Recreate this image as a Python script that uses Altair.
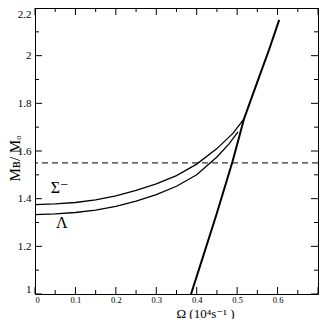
import altair as alt
import pandas as pd

# ---- data ----
sigma_x = [0, 0.05, 0.1, 0.15, 0.2, 0.25, 0.3, 0.35, 0.4, 0.45, 0.49, 0.517]
sigma_y = [1.375, 1.378, 1.384, 1.395, 1.412, 1.435, 1.462, 1.497, 1.545, 1.61, 1.675, 1.735]

lambda_x = [0, 0.05, 0.1, 0.15, 0.2, 0.25, 0.3, 0.35, 0.4, 0.45, 0.48, 0.502]
lambda_y = [1.333, 1.336, 1.342, 1.352, 1.368, 1.39, 1.417, 1.452, 1.5, 1.575, 1.63, 1.68]

kepler_x = [0.386, 0.42, 0.45, 0.4886, 0.502, 0.517, 0.55, 0.58, 0.604]
kepler_y = [1.0, 1.18, 1.34, 1.556, 1.64, 1.735, 1.89, 2.03, 2.15]

dashed_level = 1.55

label_text = ["Σ⁻", "Λ"]
label_x = [0.061, 0.066]
label_y = [1.444, 1.299]

x_major = [0, 0.1, 0.2, 0.3, 0.4, 0.5, 0.6, 0.7]
x_labels = [0, 0.1, 0.2, 0.3, 0.4, 0.5, 0.6]
x_minor = [0.05, 0.15, 0.25, 0.35, 0.45, 0.55, 0.65]
y_major = [1.0, 1.2, 1.4, 1.6, 1.8, 2.0, 2.2]
y_minor = [1.1, 1.3, 1.5, 1.7, 1.9, 2.1]

W, H = 283, 286
MAJ, MIN = 7, 4
FONT = "Liberation Serif, DejaVu Serif, Times New Roman, serif"

curves = pd.DataFrame(
    [{"x": a, "y": b, "s": "Sigma"} for a, b in zip(sigma_x, sigma_y)]
    + [{"x": a, "y": b, "s": "Lambda"} for a, b in zip(lambda_x, lambda_y)]
)
kepler = pd.DataFrame({"x": kepler_x, "y": kepler_y})
labels = pd.DataFrame({"t": label_text, "x": label_x, "y": label_y})

xs = alt.Scale(domain=[0, 0.7], nice=False, zero=False)
ys = alt.Scale(domain=[1.0, 2.2], nice=False, zero=False)

x_axis = alt.Axis(
    values=x_labels, format="~g", ticks=False, domain=False, grid=False,
    labelFont=FONT, labelFontSize=8.5, labelPadding=1, labelColor="black",
    title="Ω (10⁴s⁻¹ )", titleFont=FONT, titleFontSize=13, titleFontWeight="normal",
    titleColor="black", titleX=170, titleY=23, titleBaseline="alphabetic",
)
y_axis = alt.Axis(
    values=y_major, format="~g", ticks=False, domain=False, grid=False,
    labelFont=FONT, labelFontSize=11, labelPadding=4, labelColor="black", labelFlush=1,
    title="Mʙ/ Mₒ", titleFont=FONT, titleFontSize=15, titleFontWeight="normal",
    titleColor="black", titleX=-16, titleY=150, titleAngle=-90, titleBaseline="alphabetic",
)

def X(field):
    return alt.X(field, scale=xs, axis=x_axis)

def Y(field):
    return alt.Y(field, scale=ys, axis=y_axis)

lines = alt.Chart(curves).mark_line(color="black", strokeWidth=1.3).encode(
    x=X("x:Q"), y=Y("y:Q"), detail="s:N", order="x:Q",
)
kep = alt.Chart(kepler).mark_line(color="black", strokeWidth=2).encode(
    x=X("x:Q"), y=Y("y:Q"),
)
dash = alt.Chart().mark_rule(color="black", strokeWidth=1, strokeDash=[6, 4]).encode(
    y=alt.datum(dashed_level, scale=ys, axis=y_axis),
)
txt = alt.Chart(labels).mark_text(font=FONT, fontSize=16, color="black", baseline="middle", align="center").encode(
    x=X("x:Q"), y=Y("y:Q"), text="t:N",
)

def xticks(vals, length, bottom):
    d = pd.DataFrame({"x": vals})
    if bottom:
        y0, y1 = H, H - length
    else:
        y0, y1 = 0, length
    return alt.Chart(d).mark_rule(color="black", strokeWidth=1).encode(
        x=X("x:Q"), y=alt.value(y0), y2=alt.value(y1)
    )

def yticks(vals, length, left):
    d = pd.DataFrame({"y": vals})
    if left:
        x0, x1 = 0, length
    else:
        x0, x1 = W, W - length
    return alt.Chart(d).mark_rule(color="black", strokeWidth=1).encode(
        y=Y("y:Q"), x=alt.value(x0), x2=alt.value(x1)
    )

ticks = [
    xticks(x_major, MAJ, True), xticks(x_minor, MIN, True),
    xticks(x_major, MAJ, False), xticks(x_minor, MIN, False),
    yticks(y_major, MAJ, True), yticks(y_minor, MIN, True),
    yticks(y_major, MAJ, False), yticks(y_minor, MIN, False),
]

chart = alt.layer(lines, kep, dash, txt, *ticks).properties(
    width=W, height=H,
    autosize=alt.AutoSizeParams(type="none"),
    padding={"left": 27, "top": 0, "right": 1, "bottom": 25},
    background="white",
).configure_view(stroke="black", strokeWidth=1)

chart.save("out.html", embed_options={"renderer": "svg", "actions": False})
